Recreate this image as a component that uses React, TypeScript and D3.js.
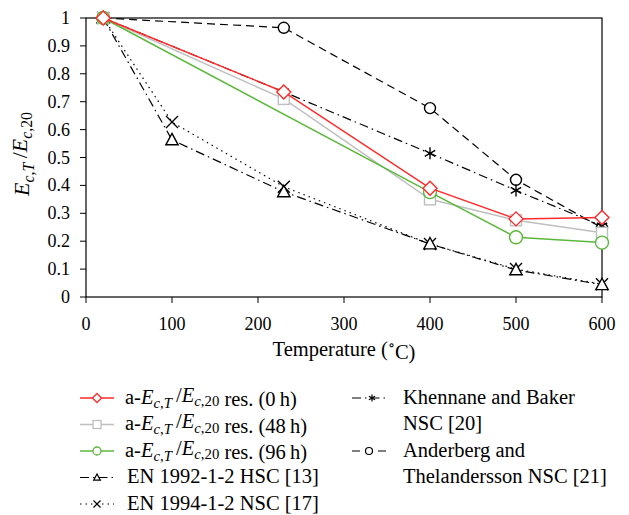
import React from "react";
import * as d3 from "d3";

const tempsA = [20, 230, 400, 500, 600];
const tempsGreen = [20, 400, 500, 600];
const tempsEN = [20, 100, 230, 400, 500, 600];

const res0h = [1, 0.735, 0.39, 0.28, 0.285];
const res48h = [1, 0.71, 0.35, 0.275, 0.23];
const res96h = [1, 0.376, 0.214, 0.195];
const en1992 = [1, 0.563, 0.377, 0.19, 0.097, 0.044];
const en1994 = [1, 0.627, 0.395, 0.19, 0.1, 0.046];
const khennane = [1, 0.735, 0.515, 0.382, 0.255];
const anderberg = [1, 0.965, 0.677, 0.42, 0.248];

const xTicks = [0, 100, 200, 300, 400, 500, 600];
const yTicks = [0, 0.1, 0.2, 0.3, 0.4, 0.5, 0.6, 0.7, 0.8, 0.9, 1];

const FONT = '"Liberation Serif", "Times New Roman", "DejaVu Serif", serif';

type Marker = "diamond" | "square" | "circle" | "triangle" | "x" | "asterisk";

interface Series {
  key: string;
  xs: number[];
  ys: number[];
  color: string;
  width: number;
  dash: string | null;
  marker: Marker;
  size: number;
}

const series: Series[] = [
  { key: "and", xs: tempsA, ys: anderberg, color: "#000", width: 1.2, dash: "8,5", marker: "circle", size: 5.5 },
  { key: "khe", xs: tempsA, ys: khennane, color: "#000", width: 1.2, dash: "9,4,1.5,4", marker: "asterisk", size: 6 },
  { key: "en94", xs: tempsEN, ys: en1994, color: "#000", width: 1.2, dash: "1.5,4", marker: "x", size: 6 },
  { key: "en92", xs: tempsEN, ys: en1992, color: "#000", width: 1.2, dash: "9,4,1.5,4", marker: "triangle", size: 6.5 },
  { key: "g48", xs: tempsA, ys: res48h, color: "#bfbfbf", width: 1.5, dash: null, marker: "square", size: 5.5 },
  { key: "g96", xs: tempsGreen, ys: res96h, color: "#5cb83c", width: 1.5, dash: null, marker: "circle", size: 6.5 },
  { key: "r0", xs: tempsA, ys: res0h, color: "#ff2a2a", width: 1.5, dash: null, marker: "diamond", size: 7 },
];

function MarkerShape({ type, x, y, s, color, sw }: { type: Marker; x: number; y: number; s: number; color: string; sw: number }) {
  const common = { stroke: color, strokeWidth: sw, fill: "#fff" };
  if (type === "diamond")
    return <path d={`M${x},${y - s}L${x + s},${y}L${x},${y + s}L${x - s},${y}Z`} {...common} />;
  if (type === "square") return <rect x={x - s} y={y - s} width={2 * s} height={2 * s} {...common} />;
  if (type === "circle") return <circle cx={x} cy={y} r={s} {...common} />;
  if (type === "triangle") {
    const h = s * 1.0;
    return <path d={`M${x},${y - h}L${x + s * 0.95},${y + h * 0.75}L${x - s * 0.95},${y + h * 0.75}Z`} {...common} />;
  }
  if (type === "x")
    return <path d={`M${x - s},${y - s}L${x + s},${y + s}M${x - s},${y + s}L${x + s},${y - s}`} stroke={color} strokeWidth={sw} fill="none" />;
  const a = s * 0.87, b = s * 0.5;
  return (
    <path
      d={`M${x},${y - s}L${x},${y + s}M${x - a},${y - b}L${x + a},${y + b}M${x - a},${y + b}L${x + a},${y - b}`}
      stroke={color}
      strokeWidth={sw}
      fill="none"
    />
  );
}

function RatioLabel() {
  return (
    <>
      <tspan fontStyle="italic">E</tspan>
      <tspan fontSize="0.72em" dy="0.3em">
        <tspan fontStyle="italic">c</tspan>,<tspan fontStyle="italic">T</tspan>
      </tspan>
      <tspan dy="-0.3em">{"\u2009/"}</tspan>
      <tspan fontStyle="italic">E</tspan>
      <tspan fontSize="0.72em" dy="0.3em">
        <tspan fontStyle="italic">c</tspan>,20
      </tspan>
      <tspan dy="-0.3em">{""}</tspan>
    </>
  );
}

export default function App() {
  const W = 629, H = 515;
  const x = d3.scaleLinear().domain([0, 600]).range([86, 602]);
  const y = d3.scaleLinear().domain([0, 1]).range([297, 18]);
  const line = d3.line<[number, number]>().x((d) => x(d[0])).y((d) => y(d[1]));

  const legendLeft = [
    { s: series[6], label: "0\u2009h" },
    { s: series[4], label: "48\u2009h" },
    { s: series[5], label: "96\u2009h" },
  ];
  const rowY = [398, 424.5, 451, 477.5, 504];
  const ts = { fontFamily: FONT };
  const LF = 20.5;
  const off = 5.5;

  return (
    <svg width={W} height={H} style={{ position: "absolute", left: 0, top: 0, fontFamily: FONT }}>
      <rect width={W} height={H} fill="#fff" />
      <rect x={86} y={18} width={516} height={279} fill="none" stroke="#000" strokeWidth={1.2} />
      {xTicks.map((t) => (
        <g key={"xt" + t}>
          <line x1={x(t)} x2={x(t)} y1={297} y2={303} stroke="#000" strokeWidth={1} />
          <text x={x(t)} y={330} textAnchor="middle" fontSize={18} style={ts}>
            {t}
          </text>
        </g>
      ))}
      {yTicks.map((t) => (
        <g key={"yt" + t}>
          <line x1={80} x2={86} y1={y(t)} y2={y(t)} stroke="#000" strokeWidth={1} />
          <text x={70} y={y(t) + 6} textAnchor="end" fontSize={18} style={ts}>
            {d3.format("~g")(t)}
          </text>
        </g>
      ))}
      <text x={344} y={356} textAnchor="middle" fontSize={20.5} style={ts}>
        Temperature (<tspan fontSize="0.7em" dy="-0.45em">∘</tspan>
        <tspan dy="0.45em">C)</tspan>
      </text>
      <text transform={`translate(29,154) rotate(-90)`} textAnchor="middle" fontSize={22} style={ts}>
        <RatioLabel />
      </text>

      {series.map((s) => {
        const pts = s.xs.map((v, i) => [v, s.ys[i]] as [number, number]);
        return (
          <g key={s.key}>
            <path d={line(pts) || ""} fill="none" stroke={s.color} strokeWidth={s.width} strokeDasharray={s.dash || undefined} />
            {pts.map((p, i) => (
              <MarkerShape key={i} type={s.marker} x={x(p[0])} y={y(p[1])} s={s.size} color={s.color} sw={1.4} />
            ))}
          </g>
        );
      })}

      {legendLeft.map((l, i) => (
        <g key={"ll" + i}>
          <line x1={80} x2={114} y1={rowY[i]} y2={rowY[i]} stroke={l.s.color} strokeWidth={1.5} />
          <MarkerShape type={l.s.marker} x={97} y={rowY[i]} s={l.s.marker === "diamond" ? 4.5 : 4} color={l.s.color} sw={1.3} />
          <text x={125} y={rowY[i] + off} fontSize={LF} style={ts}>
            a-<RatioLabel /> res. ({l.label})
          </text>
        </g>
      ))}
      {[
        { s: series[3], label: "EN 1992-1-2 HSC [13]" },
        { s: series[2], label: "EN 1994-1-2 NSC [17]" },
      ].map((l, i) => (
        <g key={"le" + i}>
          <line x1={80} x2={114} y1={rowY[i + 3]} y2={rowY[i + 3]} stroke="#000" strokeWidth={1.2} strokeDasharray={l.s.dash || undefined} />
          <MarkerShape type={l.s.marker} x={97} y={rowY[i + 3]} s={3.5} color="#000" sw={1.2} />
          <text x={127} y={rowY[i + 3] + off} fontSize={LF} style={ts}>
            {l.label}
          </text>
        </g>
      ))}
      <line x1={352} x2={386} y1={rowY[0]} y2={rowY[0]} stroke="#000" strokeWidth={1.2} strokeDasharray={series[1].dash || undefined} />
      <MarkerShape type="asterisk" x={372} y={rowY[0]} s={3.5} color="#000" sw={1.2} />
      <text x={403} y={rowY[0] + off} fontSize={LF} style={ts}>Khennane and Baker</text>
      <text x={403} y={rowY[1] + off} fontSize={LF} style={ts}>NSC [20]</text>
      <line x1={352} x2={386} y1={rowY[2]} y2={rowY[2]} stroke="#000" strokeWidth={1.2} strokeDasharray={series[0].dash || undefined} />
      <MarkerShape type="circle" x={369} y={rowY[2]} s={3.5} color="#000" sw={1.2} />
      <text x={403} y={rowY[2] + off} fontSize={LF} style={ts}>Anderberg and</text>
      <text x={403} y={rowY[3] + off} fontSize={LF} style={ts}>Thelandersson NSC [21]</text>
    </svg>
  );
}
